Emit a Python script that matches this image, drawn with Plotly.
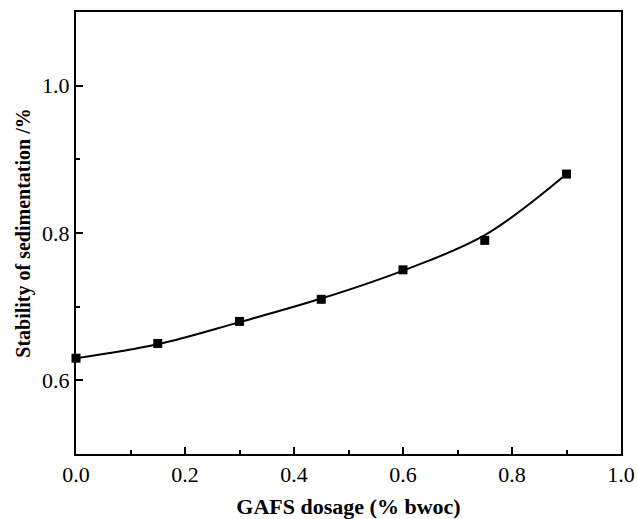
import plotly.graph_objects as go

# Measured points
dosage = [0.0, 0.15, 0.30, 0.45, 0.60, 0.75, 0.90]
stability = [0.63, 0.65, 0.68, 0.71, 0.75, 0.79, 0.88]

# Fitted curve values
fit_x = [0.0, 0.15, 0.30, 0.45, 0.60, 0.75, 0.90]
fit_y = [0.63, 0.649, 0.679, 0.711, 0.749, 0.797, 0.88]

x_ticks = [0.0, 0.2, 0.4, 0.6, 0.8, 1.0]
y_ticks = [0.6, 0.8, 1.0]

font_family = "Liberation Serif"

fig = go.Figure()
fig.add_trace(go.Scatter(
    x=fit_x, y=fit_y, mode="lines",
    line=dict(color="black", width=2, shape="spline", smoothing=1.0),
    showlegend=False, hoverinfo="skip", cliponaxis=False))
fig.add_trace(go.Scatter(
    x=dosage, y=stability, mode="markers",
    marker=dict(symbol="square", size=9, color="black"),
    showlegend=False, cliponaxis=False))

axis_common = dict(
    showline=True, linecolor="black", linewidth=2, mirror=True,
    ticks="inside", ticklen=7, tickwidth=1.5, tickcolor="black",
    showgrid=False, zeroline=False, automargin=False,
    ticklabeloverflow="allow",
    tickfont=dict(family=font_family, size=22, color="black"),
)

fig.update_xaxes(
    range=[0, 1.0], tickvals=x_ticks, tickformat=".1f",
    minor=dict(dtick=0.1, ticks="inside", ticklen=4, tickwidth=1.5, tickcolor="black"),
    title=dict(text="<b>GAFS dosage (% bwoc)</b>",
               font=dict(family=font_family, size=22, color="black"), standoff=22),
    **axis_common)
fig.update_yaxes(
    range=[0.5, 1.1], tickvals=y_ticks, tickformat=".1f",
    minor=dict(tick0=0.5, dtick=0.1, ticks="inside", ticklen=4, tickwidth=1.5, tickcolor="black"),
    title=dict(text="<b>Stability of sedimentation /%</b>",
               font=dict(family=font_family, size=20, color="black"), standoff=6),
    **axis_common)

fig.update_layout(
    width=638, height=519,
    margin=dict(l=76, r=17, t=12, b=65),
    paper_bgcolor="white", plot_bgcolor="white",
)

# remove the default page margin so the figure fills the window exactly
fig.write_html("out.html",
               config={"displayModeBar": False},
               post_script="document.body.style.margin='0px';document.body.style.overflow='hidden';")
